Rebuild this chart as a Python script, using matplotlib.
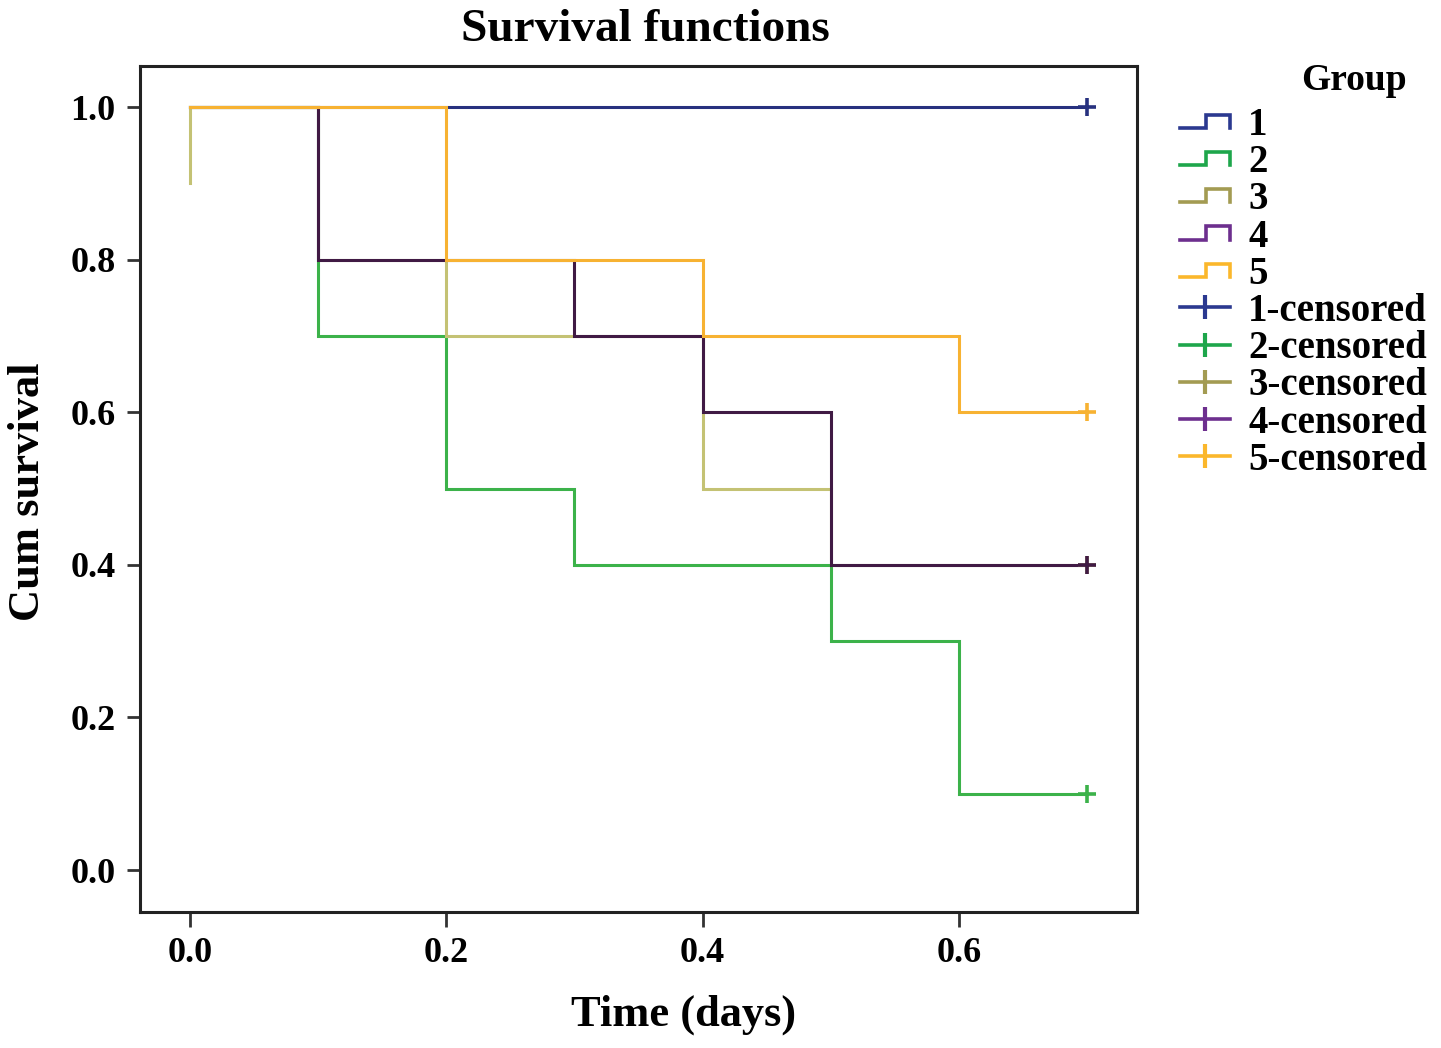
import matplotlib
matplotlib.use("Agg")
import matplotlib.pyplot as plt
from matplotlib.lines import Line2D
from matplotlib.legend_handler import HandlerBase

# ---------------- data ----------------
groups = ["1", "2", "3", "4", "5"]
g1_time = [0.0, 0.7]
g1_surv = [1.0, 1.0]
g2_time = [0.0, 0.1, 0.2, 0.3, 0.5, 0.6, 0.7]
g2_surv = [1.0, 0.7, 0.5, 0.4, 0.3, 0.1, 0.1]
g3_time = [0.0, 0.0, 0.1, 0.2, 0.4, 0.5, 0.7]
g3_surv = [0.9, 1.0, 0.8, 0.7, 0.5, 0.4, 0.4]
g4_time = [0.0, 0.1, 0.3, 0.4, 0.5, 0.7]
g4_surv = [1.0, 0.8, 0.7, 0.6, 0.4, 0.4]
g5_time = [0.0, 0.2, 0.4, 0.6, 0.7]
g5_surv = [1.0, 0.8, 0.7, 0.6, 0.6]
censor_time = [0.7, 0.7, 0.7, 0.7, 0.7]
censor_surv = [1.0, 0.1, 0.4, 0.4, 0.6]
xticks = [0.0, 0.2, 0.4, 0.6]
yticks = [0.0, 0.2, 0.4, 0.6, 0.8, 1.0]

times = [g1_time, g2_time, g3_time, g4_time, g5_time]
survs = [g1_surv, g2_surv, g3_surv, g4_surv, g5_surv]
line_colors = ["#27317f", "#3cb24a", "#c4c274", "#401a44", "#f7b232"]
legend_colors = ["#2b3990", "#1ea64b", "#a39b52", "#6d2f8e", "#fbb72b"]

plt.rcParams["font.family"] = ["Liberation Serif", "DejaVu Serif"]
plt.rcParams["font.weight"] = "bold"

W, H = 1441, 1048
fig = plt.figure(figsize=(W / 100, H / 100), dpi=100)
ax = fig.add_axes([140 / W, 1 - 912 / H, (1137 - 140) / W, (912 - 66) / H])

for t, s, c in zip(times, survs, line_colors):
    ax.plot(t, s, drawstyle="steps-post", color=c, lw=2.2, solid_joinstyle="miter")
for i in range(len(groups)):
    ax.plot([censor_time[i]], [censor_surv[i]], marker="+", markersize=13,
            mew=2.6, color=line_colors[i], linestyle="none")

ax.set_xlim(-0.039, 0.739)
ax.set_ylim(-0.055, 1.054)
ax.set_xticks(xticks)
ax.set_yticks(yticks)
ax.set_xticklabels([f"{v:.1f}" for v in xticks], fontsize=26, fontweight="bold")
ax.set_yticklabels([f"{v:.1f}" for v in yticks], fontsize=26, fontweight="bold")
ax.tick_params(axis="x", length=11, width=2, pad=7, color="#333333")
ax.tick_params(axis="y", length=9.5, width=2, pad=8, color="#333333")
for sp in ax.spines.values():
    sp.set_linewidth(2.2)
    sp.set_color("#222222")

fig.text(645 / W, 1 - 30 / H, "Survival functions", ha="center", va="center",
         fontsize=34, fontweight="bold")
fig.text(684 / W, 1 - 1015 / H, "Time (days)", ha="center", va="center",
         fontsize=32, fontweight="bold")
fig.text(28 / W, 1 - 492 / H, "Cum survival", ha="center", va="center",
         rotation=90, fontsize=32, fontweight="bold")
fig.text(1354 / W, 1 - 80 / H, "Group", ha="center", va="center",
         fontsize=27, fontweight="bold")


class StepProxy(Line2D):
    pass


class HandlerStep(HandlerBase):
    def create_artists(self, legend, orig_handle, xdescent, ydescent,
                       width, height, fontsize, trans):
        x0 = -xdescent
        yc = -ydescent + height / 2
        d = 0.17 * fontsize
        xs = [x0, x0 + 0.52 * width, x0 + 0.52 * width, x0 + width, x0 + width]
        ys = [yc - d, yc - d, yc + d, yc + d, yc - d]
        ln = Line2D(xs, ys, color=orig_handle.get_color(),
                    lw=orig_handle.get_linewidth(), transform=trans,
                    solid_joinstyle="miter")
        return [ln]


handles = []
labels = []
for g, c in zip(groups, legend_colors):
    handles.append(StepProxy([], [], color=c, lw=2.6))
    labels.append(g)
for g, c in zip(groups, legend_colors):
    handles.append(Line2D([], [], color=c, lw=2.6, marker="|", markersize=17, mew=3))
    labels.append(f"{g}-censored")

leg = fig.legend(handles, labels, loc="upper left",
                 bbox_to_anchor=(1180 / W, 1 - 107 / H),
                 frameon=False, borderpad=0, borderaxespad=0,
                 handlelength=1.29, handletextpad=0.46, labelspacing=0.005,
                 handleheight=0.7, numpoints=1,
                 prop={"size": 28, "weight": "bold"},
                 handler_map={StepProxy: HandlerStep()})

fig.savefig("out.png", dpi=100, facecolor="white")
